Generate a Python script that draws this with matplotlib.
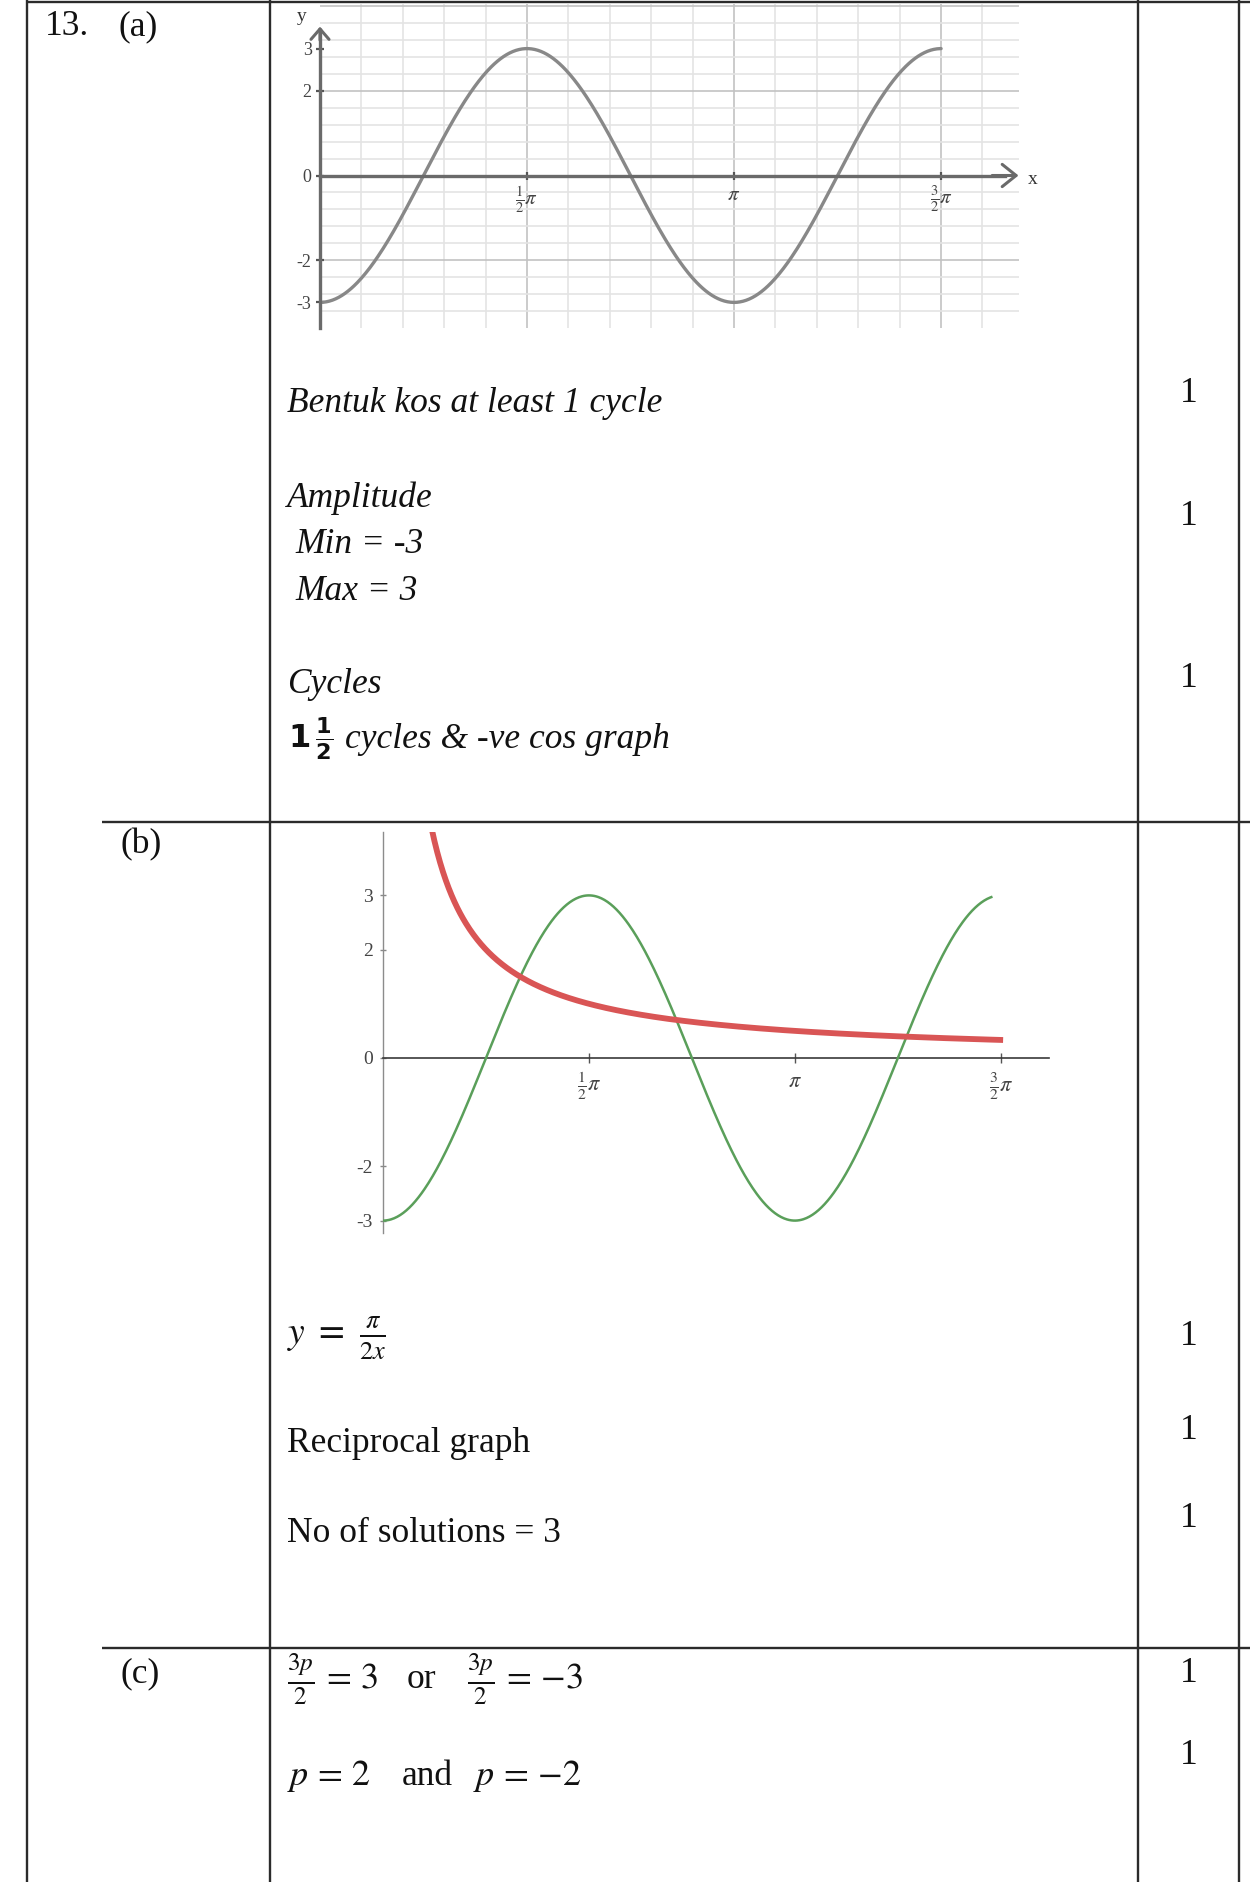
import numpy as np
import matplotlib
matplotlib.use("Agg")
import matplotlib.pyplot as plt

W, H = 1250, 1882
DPI = 100

# ---- function data ---------------------------------------------------------
cos_amplitude = 3          # y = -3 cos 2x
cos_frequency = 2
curve_a_range = [0.0, 1.5 * np.pi]
curve_b_range = [0.0, 4.64]
recip_numerator = np.pi    # y = pi / (2x)
recip_coef = 2
recip_range = [0.37, 4.73]

y_ticks = [-3, -2, 0, 2, 3]
y_tick_labels = ["-3", "-2", "0", "2", "3"]
x_ticks = [0.5 * np.pi, np.pi, 1.5 * np.pi]
x_tick_labels = [r"$\frac{1}{2}\pi$", r"$\pi$", r"$\frac{3}{2}\pi$"]

mark_values = ["1", "1", "1", "1", "1", "1", "1", "1"]

# ---- page layout (pixels) --------------------------------------------------
SERIF = "Liberation Serif"
INK = "#111111"
LINE = "#2b2b2b"
BODY = 25.5
MATH = 27

fig = plt.figure(figsize=(W / DPI, H / DPI), dpi=DPI)
fig.patch.set_facecolor("white")

page = fig.add_axes([0, 0, 1, 1], zorder=0)
page.set_xlim(0, W)
page.set_ylim(H, 0)
page.axis("off")


def rect(l, t, r, b):
    return [l / W, 1 - b / H, (r - l) / W, (b - t) / H]


# table rules
rule_kw = dict(color=LINE, lw=1.7, solid_capstyle="butt")
page.plot([27, W], [2, 2], **rule_kw)
for xv in (27, 270, 1138, 1239):
    page.plot([xv, xv], [0, H], **rule_kw)
page.plot([102, W], [822, 822], **rule_kw)
page.plot([102, W], [1648, 1648], **rule_kw)


def ptext(x, y, s, style="normal", size=BODY, **kw):
    page.text(x, y, s, fontsize=size, family=SERIF, style=style, color=INK,
              ha=kw.pop("ha", "left"), va=kw.pop("va", "baseline"), **kw)


# question labels
ptext(45, 35, "13.")
ptext(118, 35, "(a)")
ptext(120, 853, "(b)")
ptext(120, 1682, "(c)")

# marks column
mark_baselines = [402, 525, 687, 1345, 1439, 1527, 1682, 1764]
for v, yb in zip(mark_values, mark_baselines):
    ptext(1189, yb, v, ha="center")

# part (a) notes
ptext(287, 412, "Bentuk kos at least 1 cycle", style="italic")
ptext(287, 507, "Amplitude", style="italic")
ptext(295, 553, "Min = -3", style="italic")
ptext(295, 600, "Max = 3", style="italic")
ptext(287, 693, "Cycles", style="italic")
page.text(288, 748, r"$\mathbf{1}\,\frac{\mathbf{1}}{\mathbf{2}}$", fontsize=23,
          math_fontfamily="dejavusans", color=INK, va="baseline")
ptext(345, 748, "cycles & -ve cos graph", style="italic")

# part (b) notes
page.text(287, 1345, r"$y\ =\ \frac{\pi}{2x}$", fontsize=MATH,
          math_fontfamily="stix", color=INK, va="baseline")
ptext(287, 1452, "Reciprocal graph")
ptext(287, 1542, "No of solutions = 3")

# part (c) working
mt = dict(fontsize=26, math_fontfamily="stix", color=INK, va="baseline")
page.text(287, 1690, r"$\frac{3p}{2}\,=\,3$", **mt)
ptext(407, 1688, "or")
page.text(467, 1690, r"$\frac{3p}{2}\,=\,{-3}$", **mt)
page.text(287, 1785, r"$p\,=\,2$", **mt)
ptext(402, 1785, "and")
page.text(473, 1785, r"$p\,=\,{-2}$", **mt)

# ---- graph (a): y = -3 cos 2x on a grid -----------------------------------
A_X0, A_XS = 320.0, 131.8      # px at x=0, px per radian
A_Y0, A_YS = 175.5, 42.3       # px at y=0, px per unit
a_xlim = (0.0, 5.30)
a_ylim = (-3.6, 4.05)
ax_a = fig.add_axes(rect(A_X0 + a_xlim[0] * A_XS, A_Y0 - a_ylim[1] * A_YS,
                         A_X0 + a_xlim[1] * A_XS, A_Y0 - a_ylim[0] * A_YS),
                    zorder=2)
ax_a.set_xlim(*a_xlim)
ax_a.set_ylim(*a_ylim)
ax_a.patch.set_alpha(0)

GRID_MAJOR = "#c2c2c2"
GRID_MINOR = "#e4e4e4"
for k in range(1, 17):
    gx = k * np.pi / 10
    if gx > a_xlim[1]:
        break
    major = k % 5 == 0
    ax_a.axvline(gx, color=GRID_MAJOR if major else GRID_MINOR,
                 lw=1.2, zorder=0)
for k in range(-8, 11):
    gy = k * 0.4
    if k == 0:
        continue
    major = k % 5 == 0
    ax_a.axhline(gy, color=GRID_MAJOR if major else GRID_MINOR,
                 lw=1.2, zorder=0)

xa = np.linspace(curve_a_range[0], curve_a_range[1], 600)
ax_a.plot(xa, -cos_amplitude * np.cos(cos_frequency * xa),
          color="#888888", lw=2.4, zorder=3, solid_capstyle="round")

AX_A_COL = "#6a6a6a"
for side in ("top", "right"):
    ax_a.spines[side].set_visible(False)
ax_a.spines["bottom"].set_position(("data", 0))
ax_a.spines["left"].set_position(("data", 0))
ax_a.spines["bottom"].set_bounds(0, 5.2)
ax_a.spines["left"].set_bounds(a_ylim[0], 3.45)
for side in ("bottom", "left"):
    ax_a.spines[side].set_color(AX_A_COL)
    ax_a.spines[side].set_linewidth(2.4)
    ax_a.spines[side].set_zorder(4)

ax_a.annotate("", xy=(5.30, 0), xytext=(5.1, 0),
              arrowprops=dict(arrowstyle="->,head_length=1.0,head_width=0.8",
                              color=AX_A_COL, lw=2.2, shrinkA=0, shrinkB=0),
              annotation_clip=False, zorder=5)
ax_a.annotate("", xy=(0, 3.52), xytext=(0, 3.2),
              arrowprops=dict(arrowstyle="->,head_length=0.75,head_width=0.65",
                              color=AX_A_COL, lw=2.2, shrinkA=0, shrinkB=0),
              annotation_clip=False, zorder=5)
ax_a.text(5.30 + 14 / A_XS, -0.1, "x", family=SERIF, fontsize=14,
          color="#333333", ha="center", va="center", clip_on=False)
ax_a.text(-18 / A_XS, 3.75, "y", family=SERIF, fontsize=14,
          color="#333333", ha="center", va="center", clip_on=False)

ax_a.set_xticks(x_ticks)
ax_a.set_xticklabels(x_tick_labels, fontsize=15, color="#444444")
ax_a.set_yticks(y_ticks)
ax_a.set_yticklabels(y_tick_labels, fontsize=13, color="#444444",
                     family=SERIF)
for lab in ax_a.get_xticklabels():
    lab.set_math_fontfamily("stix")
ax_a.tick_params(axis="both", direction="inout", length=6, width=1.6,
                 color="#555555", pad=3)

# ---- graph (b): y = -3 cos 2x with y = pi/(2x) ----------------------------
B_X0, B_XS = 383.0, 131.1
B_Y0, B_YS = 1058.0, 54.2
b_xlim = (0.0, 5.08)
b_ylim = (-3.23, 4.17)
ax_b = fig.add_axes(rect(B_X0 + b_xlim[0] * B_XS, B_Y0 - b_ylim[1] * B_YS,
                         B_X0 + b_xlim[1] * B_XS, B_Y0 - b_ylim[0] * B_YS),
                    zorder=2)
ax_b.set_xlim(*b_xlim)
ax_b.set_ylim(*b_ylim)
ax_b.patch.set_alpha(0)

xb = np.linspace(curve_b_range[0], curve_b_range[1], 600)
ax_b.plot(xb, -cos_amplitude * np.cos(cos_frequency * xb),
          color="#5a9f5a", lw=1.8, zorder=3)
xr = np.linspace(recip_range[0], recip_range[1], 600)
ax_b.plot(xr, recip_numerator / (recip_coef * xr),
          color="#d95555", lw=4.2, zorder=4, solid_capstyle="butt")

for side in ("top", "right"):
    ax_b.spines[side].set_visible(False)
ax_b.spines["bottom"].set_position(("data", 0))
ax_b.spines["bottom"].set_color("#3a3a3a")
ax_b.spines["bottom"].set_linewidth(1.2)
ax_b.spines["left"].set_color("#8c8c8c")
ax_b.spines["left"].set_linewidth(1.0)

ax_b.set_xticks(x_ticks)
ax_b.set_xticklabels(x_tick_labels, fontsize=16, color="#444444")
for lab in ax_b.get_xticklabels():
    lab.set_math_fontfamily("stix")
ax_b.set_yticks(y_ticks)
ax_b.set_yticklabels(y_tick_labels, fontsize=14, color="#444444",
                     family=SERIF)
ax_b.tick_params(axis="x", direction="inout", length=7, width=1.0,
                 color="#555555", pad=6)
ax_b.tick_params(axis="y", direction="inout", length=5, width=1.0,
                 color="#888888", pad=5)

fig.savefig("out.png", dpi=DPI, facecolor="white")
